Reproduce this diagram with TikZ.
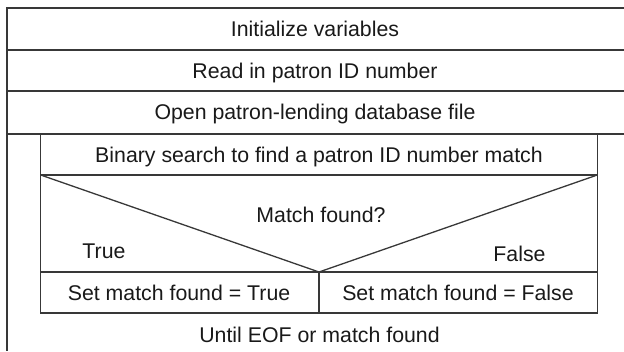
\documentclass[tikz,border=0pt]{standalone}
\usepackage{fontspec}
\setmainfont{Liberation Sans}
\begin{document}
\begin{tikzpicture}[x=1pt,y=-1pt,
  lines/.style={draw=black!78, line width=1.3pt},
  lbl/.style={anchor=base, inner sep=0pt, font=\fontsize{21.3}{25}\selectfont, text=black!90}]
\useasboundingbox (0,0) rectangle (624,351);
% outer frame coordinates
\coordinate (oTL) at (7,8);
\coordinate (oTR) at (624,8);
\coordinate (oBL) at (7,351);
\coordinate (r1L) at (7,50);   \coordinate (r1R) at (624,50);
\coordinate (r2L) at (7,91);   \coordinate (r2R) at (624,91);
\coordinate (r3L) at (7,134);  \coordinate (r3R) at (624,134);
% inner block
\coordinate (iTL) at (40.7,134); \coordinate (iTR) at (597.3,134);
\coordinate (iBL) at (40.7,313); \coordinate (iBR) at (597.3,313);
\coordinate (bL) at (40.7,175);  \coordinate (bR) at (597.3,175);
\coordinate (cL) at (40.7,272);  \coordinate (cR) at (597.3,272);
\coordinate (apex) at (319,272);
\coordinate (split) at (319,313);

\draw[lines] (oTR) -- (oTL) -- (oBL);
\draw[lines] (r1L) -- (r1R);
\draw[lines] (r2L) -- (r2R);
\draw[lines] (r3L) -- (r3R);
\draw[lines] (iTL) -- (iBL) -- (iBR) -- (iTR);
\draw[lines] (bL) -- (bR);
\draw[lines] (cL) -- (cR);
\draw[lines] (bL) -- (apex) -- (bR);
\draw[lines] (apex) -- (split);

\node[lbl] (init) at (315,36.5) {Initialize variables};
\node[lbl] (read) at (315,78) {Read in patron ID number};
\node[lbl] (open) at (315,119.5) {Open patron-lending database file};
\node[lbl] (bin) at (319,162) {Binary search to find a patron ID number match};
\node[lbl] (cond) at (321,222) {Match found?};
\node[lbl] (tru) at (104,258) {True};
\node[lbl] (fal) at (519.5,261) {False};
\node[lbl] (setT) at (179,300) {Set match found = True};
\node[lbl] (setF) at (458,300) {Set match found = False};
\node[lbl] (until) at (319.5,342) {Until EOF or match found};
\end{tikzpicture}
\end{document}
